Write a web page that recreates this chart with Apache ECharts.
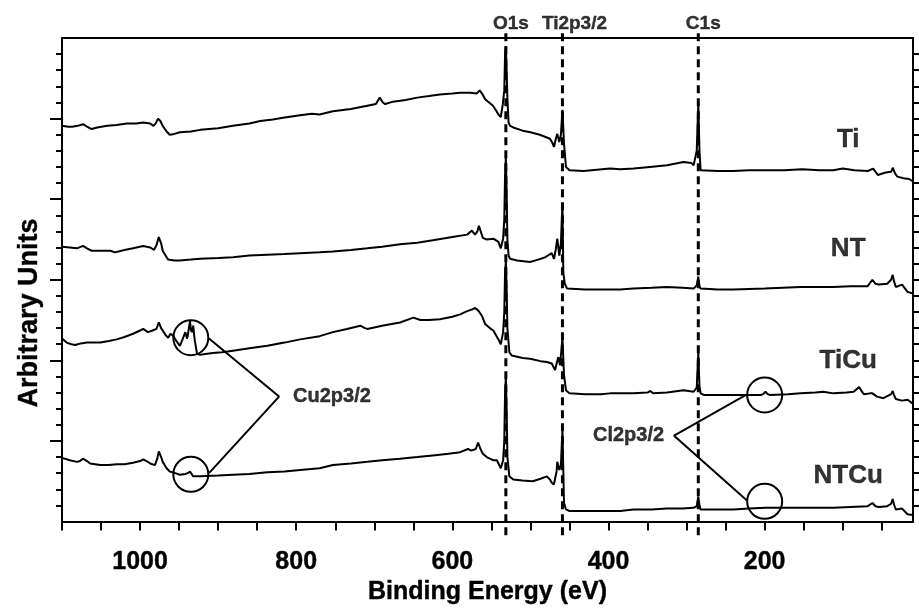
<!DOCTYPE html>
<html>
<head>
<meta charset="utf-8">
<script src="https://cdn.jsdelivr.net/npm/echarts@6/dist/echarts.min.js"></script>
<style>
  html, body { margin: 0; padding: 0; background: #fff; }
  #chart { width: 919px; height: 610px; }
</style>
</head>
<body>
<div id="chart"></div>
<script>
// XPS survey spectra of four surfaces, stacked vertically (binding energy in eV, intensity in arbitrary units)

const sampleNames = ['Ti', 'NT', 'TiCu', 'NTCu'];

const spectrumTi = [
  [1100,4.91],[1092,4.90],[1087,4.90],[1080,4.91],[1073,4.93],[1068,4.90],[1062,4.87],[1055,4.89],[1042,4.91],[1030,4.92],
  [1017,4.94],[1005,4.94],[996,4.95],[987,4.94],[983,4.91],[980,4.94],[977,5.00],[974,4.97],[971,4.91],[966,4.84],
  [962,4.80],[956,4.81],[949,4.83],[935,4.84],[923,4.86],[900,4.88],[881,4.91],[860,4.94],[846,4.97],[830,4.99],
  [817,5.01],[795,5.04],[780,5.06],[770,5.05],[753,5.09],[730,5.12],[709,5.16],[698,5.18],[693,5.26],[689,5.20],
  [686,5.18],[676,5.21],[660,5.23],[645,5.26],[630,5.28],[616,5.30],[600,5.31],[590,5.32],[577,5.32],[569,5.31],
  [565,5.35],[562,5.31],[558,5.24],[553,5.20],[548,5.16],[544,5.10],[541,5.05],[538,5.02],[535.5,5.17],[533.5,5.35],
  [532.5,5.80],[531.5,5.90],[530.5,5.60],[529.5,5.25],[528,4.95],[526,4.91],[522,4.89],[510,4.85],[500,4.83],[488,4.80],
  [475,4.75],[472,4.70],[469.8,4.65],[467.5,4.75],[465.6,4.81],[463,4.71],[461,4.80],[459,5.11],[457,4.69],[454.5,4.40],
  [450,4.36],[432,4.35],[398,4.38],[385,4.37],[368,4.38],[347,4.40],[325,4.42],[304,4.46],[294,4.45],[291,4.42],
  [287,4.60],[285,5.19],[283.5,4.60],[282,4.36],[260,4.35],[240,4.35],[220,4.36],[196,4.36],[175,4.36],[152,4.37],
  [130,4.36],[112,4.36],[100,4.38],[85,4.36],[68,4.35],[61,4.38],[55,4.30],[45,4.33],[38,4.34],[36,4.39],
  [33,4.32],[30,4.28],[22,4.26],[15,4.25],[10,4.22]
];

const spectrumNT = [
  [1100,3.41],[1090,3.40],[1081,3.39],[1073,3.42],[1068,3.39],[1062,3.36],[1050,3.36],[1038,3.36],[1032,3.34],[1020,3.37],
  [1009,3.39],[996,3.42],[987,3.40],[982,3.37],[979,3.43],[976,3.53],[973,3.45],[971,3.36],[966,3.28],[964,3.25],
  [956,3.24],[949,3.24],[935,3.25],[923,3.26],[900,3.27],[881,3.28],[860,3.30],[837,3.31],[815,3.32],[795,3.33],
  [770,3.34],[753,3.35],[730,3.37],[709,3.39],[690,3.41],[667,3.44],[645,3.46],[625,3.49],[600,3.53],[581,3.56],
  [575,3.61],[571,3.56],[568,3.60],[566,3.67],[563,3.58],[561,3.52],[556,3.50],[547.5,3.51],[541,3.47],[538,3.39],
  [535,3.51],[533.5,3.75],[532.5,4.30],[531.5,4.52],[530.5,4.10],[529.5,3.50],[528,3.30],[526,3.26],[517,3.24],[500.5,3.22],
  [490,3.25],[481,3.28],[472.7,3.33],[469.8,3.26],[467.5,3.38],[465.6,3.51],[463,3.30],[461,3.45],[459,3.95],[457.9,3.09],
  [456,2.95],[453,2.89],[451,2.88],[430,2.88],[410,2.88],[385,2.88],[368,2.89],[345,2.90],[325,2.91],[305,2.90],
  [291,2.89],[287,2.93],[285,3.04],[283.5,2.92],[282,2.89],[260,2.88],[240,2.88],[200,2.89],[154,2.91],[130,2.91],
  [112,2.91],[90,2.92],[68,2.92],[62,3.00],[58,2.95],[54,2.94],[43,2.95],[38,3.00],[36,3.06],[34,2.97],
  [32,2.91],[24,2.94],[17,2.85],[10,2.83]
];

const spectrumTiCu = [
  [1100,2.27],[1094,2.22],[1088,2.20],[1083,2.19],[1076,2.21],[1068,2.22],[1060,2.22],[1051,2.22],[1040,2.24],[1030,2.26],
  [1020,2.29],[1009,2.33],[1000,2.37],[996,2.39],[990,2.35],[984,2.37],[979,2.39],[976,2.47],[973,2.40],[971,2.37],
  [967,2.31],[964,2.28],[961,2.33],[959,2.35],[957,2.30],[955,2.26],[952,2.22],[949,2.18],[946,2.25],[942,2.35],
  [940,2.27],[939,2.30],[937.5,2.40],[936,2.49],[935,2.38],[933.5,2.35],[932,2.43],[930,2.25],[927,2.08],[923,2.07],
  [907,2.09],[895,2.10],[881,2.12],[860,2.15],[837,2.18],[815,2.22],[795,2.26],[770,2.30],[753,2.35],[735,2.39],
  [718,2.43],[712,2.40],[709,2.39],[690,2.43],[667,2.47],[650,2.53],[641,2.50],[630,2.50],[616,2.51],[600,2.54],
  [590,2.57],[581,2.61],[575,2.63],[571,2.65],[567,2.62],[562,2.55],[558,2.45],[552,2.40],[547.5,2.37],[541,2.26],
  [538,2.20],[535,2.35],[533.5,2.60],[532.5,3.10],[531.5,3.22],[530.5,2.90],[529.5,2.40],[527,2.10],[524,2.06],[510,2.03],
  [500.5,2.02],[487,1.99],[479,1.98],[472.7,1.96],[468.5,1.88],[466,1.98],[464.3,2.04],[462.1,1.94],[459,2.28],[457,1.82],
  [454.5,1.63],[450,1.59],[430,1.58],[410,1.58],[398,1.59],[368,1.59],[350,1.60],[346.5,1.62],[343,1.59],[325,1.60],
  [304,1.63],[291,1.61],[287,1.66],[285,2.10],[283.5,1.68],[282,1.59],[278,1.57],[260,1.57],[240,1.57],[220,1.57],
  [205,1.57],[202,1.58],[199,1.61],[196,1.58],[193,1.57],[170,1.58],[154,1.59],[135,1.60],[125,1.61],[112,1.59],
  [95,1.60],[86,1.61],[79,1.67],[76,1.62],[73,1.58],[65,1.59],[62,1.59],[56,1.55],[48,1.53],[38,1.58],
  [36,1.62],[34,1.56],[32,1.52],[24,1.50],[17,1.51],[10,1.46]
];

const spectrumNTCu = [
  [1100,0.79],[1090,0.76],[1081,0.74],[1077,0.75],[1073,0.78],[1068,0.75],[1064,0.72],[1051,0.70],[1040,0.70],[1030,0.71],
  [1020,0.71],[1009,0.73],[1000,0.75],[996,0.77],[990,0.74],[987,0.72],[981,0.70],[978,0.78],[976,0.87],[973,0.80],
  [971,0.74],[966,0.66],[962,0.62],[955,0.60],[949,0.58],[942,0.59],[939,0.60],[936,0.62],[935,0.64],[934,0.59],
  [932,0.56],[923,0.56],[900,0.57],[881,0.58],[860,0.59],[837,0.61],[815,0.62],[795,0.64],[770,0.66],[753,0.70],
  [730,0.72],[709,0.74],[690,0.76],[667,0.78],[645,0.80],[625,0.82],[605,0.84],[590,0.86],[580,0.90],[576,0.88],
  [574,0.86],[570,0.90],[567,0.98],[564,0.90],[561,0.84],[556,0.80],[552,0.78],[547.5,0.76],[543,0.76],[541,0.72],
  [538,0.66],[535,0.76],[533.5,1.00],[532.5,1.60],[531.5,1.78],[530.5,1.40],[529.5,0.80],[527,0.56],[522,0.52],[510,0.51],
  [497,0.50],[487,0.53],[479,0.56],[475,0.52],[472.7,0.48],[470,0.46],[468.5,0.44],[466.5,0.62],[465.6,0.74],[463,0.64],
  [461,0.70],[459,1.13],[457,0.23],[454.5,0.15],[450,0.13],[430,0.13],[410,0.13],[385,0.13],[368,0.15],[345,0.15],
  [325,0.16],[305,0.16],[291,0.17],[287,0.19],[285,0.31],[283.5,0.20],[282,0.15],[260,0.15],[240,0.15],[220,0.16],
  [199,0.17],[175,0.17],[154,0.17],[130,0.17],[112,0.17],[90,0.18],[68,0.19],[62,0.23],[58,0.19],[54,0.18],
  [43,0.19],[38,0.22],[36,0.28],[34,0.20],[32,0.15],[24,0.16],[17,0.09],[10,0.08]
];

// core-level reference positions marked with dashed lines
const peakLabels = ['O1s', 'Ti2p3/2', 'C1s'];
const peakEnergies = [531.5, 459, 285];

// axis ticks
const energyTickLabels = [1000, 800, 600, 400, 200];
const energyTicks = [1100, 1050, 1000, 950, 900, 850, 800, 750, 700, 650, 600, 550, 500, 450, 400, 350, 300, 250, 200, 150, 100, 50];
const intensityTicks = [1, 2, 3, 4, 5];

// circled minor features and their captions
const cuCircles = [[935, 2.28], [935, 0.585]];
const clCircles = [[200, 1.57], [200, 0.25]];
const cuLeader = [[911.7, 2.27], [822, 1.55], [911.7, 0.60]];
const clLeader = [[225, 1.565], [316, 1.065], [223, 0.265]];

const FONT = '"Liberation Sans", Arial, Helvetica, sans-serif';
const BLACK = '#000';

const chart = echarts.init(document.getElementById('chart'), null, { renderer: 'canvas' });

const spectra = [spectrumTi, spectrumNT, spectrumTiCu, spectrumNTCu];
// where each sample name sits (energy, intensity)
const sampleLabelAt = [[93, 4.74], [93, 3.38], [93, 1.99], [93, 0.57]];

// bold black text, with a hairline outline for a heavier stroke
function txt(size) {
  return { color: BLACK, fontFamily: FONT, fontWeight: 'bold', fontSize: size,
    textBorderColor: BLACK, textBorderWidth: 0.4 };
}

const series = [];

spectra.forEach((d, i) => {
  series.push({
    name: sampleNames[i],
    type: 'line',
    data: d,
    showSymbol: false,
    symbol: 'none',
    lineStyle: { color: BLACK, width: 2 },
    z: 3,
    animation: false
  });
});

// dashed guide lines, running a little past the frame at both ends
peakEnergies.forEach((e, i) => {
  series.push({
    name: peakLabels[i] + ' line',
    type: 'line',
    data: [[e, -0.17], [e, 6.12]],
    showSymbol: false,
    symbol: 'none',
    clip: false,
    lineStyle: { color: BLACK, width: 3, type: [8, 5] },
    z: 2,
    animation: false
  });
});

// captions above the dashed lines
const peakLabelShift = [[5, -5], [12, -5], [5, -5]];
series.push({
  type: 'scatter',
  clip: false,
  symbolSize: 0,
  animation: false,
  silent: true,
  data: peakEnergies.map((e, i) => ({
    value: [e, 6.12],
    label: Object.assign({ show: true, position: 'inside', formatter: peakLabels[i],
      offset: peakLabelShift[i] }, txt(19))
  }))
});

// sample names on the right
series.push({
  type: 'scatter',
  clip: false,
  symbolSize: 0,
  animation: false,
  silent: true,
  data: sampleLabelAt.map((p, i) => ({
    value: p,
    label: Object.assign({ show: true, position: 'inside', formatter: sampleNames[i] }, txt(26))
  }))
});

// circles around the Cu2p3/2 and Cl2p3/2 features
series.push({
  type: 'scatter',
  symbol: 'circle',
  symbolSize: 35,
  animation: false,
  silent: true,
  itemStyle: { color: 'rgba(0,0,0,0)', borderColor: BLACK, borderWidth: 2, opacity: 1 },
  data: cuCircles.concat(clCircles),
  z: 4
});

// leader lines joining each pair of circles to its caption
[cuLeader, clLeader].forEach(d => {
  series.push({
    type: 'line',
    data: d,
    showSymbol: false,
    symbol: 'none',
    lineStyle: { color: BLACK, width: 2 },
    animation: false,
    z: 4
  });
});

// leader captions
series.push({
  type: 'scatter',
  clip: false,
  symbolSize: 0,
  animation: false,
  silent: true,
  data: [
    { value: cuLeader[1], label: Object.assign({ show: true, position: 'right', distance: 14, formatter: 'Cu2p3/2' }, txt(20)) },
    { value: clLeader[1], label: Object.assign({ show: true, position: 'left', distance: 10, formatter: 'Cl2p3/2' }, txt(20)) }
  ]
});

const axisLineStyle = { color: BLACK, width: 2 };

const option = {
  backgroundColor: '#fff',
  animation: false,
  grid: { left: 62, right: 6, top: 38, bottom: 81, containLabel: false },
  xAxis: [
    {
      type: 'value', position: 'bottom', inverse: true, min: 10, max: 1100,
      axisLine: { show: true, onZero: false, lineStyle: axisLineStyle },
      axisTick: { show: true, customValues: energyTicks, length: 9, lineStyle: axisLineStyle },
      axisLabel: Object.assign({ show: true, customValues: energyTickLabels, margin: 28,
        formatter: v => String(v) }, txt(25)),
      splitLine: { show: false },
      name: 'Binding Energy (eV)', nameLocation: 'middle', nameGap: 55,
      nameTextStyle: txt(25)
    },
    {
      type: 'value', position: 'top', inverse: true, min: 10, max: 1100,
      axisLine: { show: true, onZero: false, lineStyle: axisLineStyle },
      axisTick: { show: false }, axisLabel: { show: false }, splitLine: { show: false }
    }
  ],
  yAxis: [
    {
      type: 'value', position: 'left', min: 0, max: 6, interval: 1,
      axisLine: { show: true, onZero: false, lineStyle: axisLineStyle },
      axisTick: { show: true, customValues: intensityTicks, length: 12, lineStyle: axisLineStyle },
      minorTick: { show: true, splitNumber: 5, length: 6, lineStyle: axisLineStyle },
      axisLabel: { show: false }, splitLine: { show: false }, minorSplitLine: { show: false }
    },
    {
      type: 'value', position: 'right', min: 0, max: 6, interval: 1,
      axisLine: { show: true, onZero: false, lineStyle: axisLineStyle },
      axisTick: { show: true, customValues: intensityTicks, length: 8, lineStyle: axisLineStyle },
      minorTick: { show: true, splitNumber: 5, length: 8, lineStyle: axisLineStyle },
      axisLabel: { show: false }, splitLine: { show: false }, minorSplitLine: { show: false }
    }
  ],
  graphic: [
    {
      type: 'text', x: 30, y: 313, rotation: Math.PI / 2,
      style: { text: 'Arbitrary Units', fill: BLACK, font: 'bold 27px ' + FONT,
        stroke: BLACK, lineWidth: 0.4, textAlign: 'center', textVerticalAlign: 'middle' }
    }
  ],
  series: series
};

chart.setOption(option);
</script>
</body>
</html>
